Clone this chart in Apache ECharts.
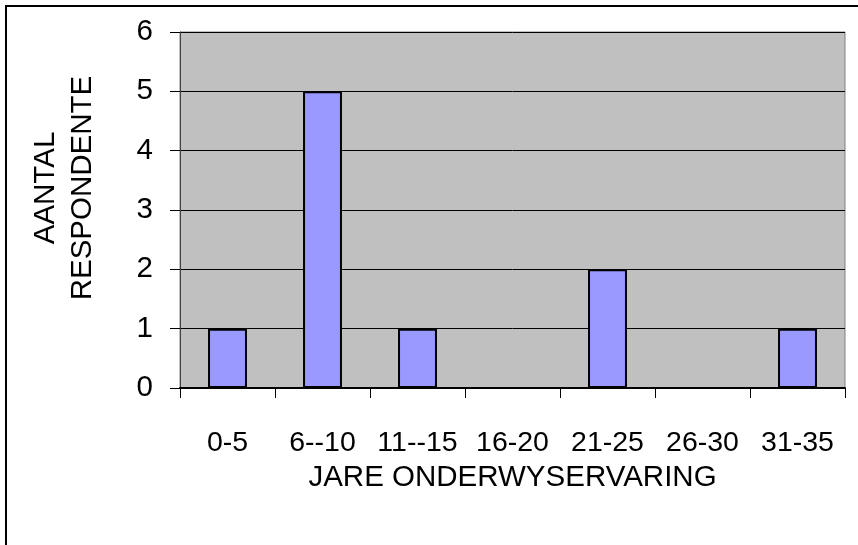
<!DOCTYPE html>
<html>
<head>
<meta charset="utf-8">
<script src="https://cdn.jsdelivr.net/npm/echarts@6/dist/echarts.min.js"></script>
<style>
html,body{margin:0;padding:0;background:#fff;}
#chart{width:858px;height:545px;}
</style>
</head>
<body>
<div id="chart"></div>
<script>
const categories = ['0-5', '6--10', '11--15', '16-20', '21-25', '26-30', '31-35'];
const respondents = [1, 5, 1, 0, 2, 0, 1];
const yTicks = [0, 1, 2, 3, 4, 5, 6];
const xTitle = 'JARE ONDERWYSERVARING';
const yTitle = 'AANTAL\nRESPONDENTE';

const font = "'Liberation Sans', Arial, sans-serif";
const chart = echarts.init(document.getElementById('chart'), null, {renderer: 'canvas'});
chart.setOption({
  animation: false,
  backgroundColor: '#ffffff',
  graphic: [{
    type: 'rect',
    shape: {x: 6, y: 6, width: 900, height: 600},
    style: {fill: 'none', stroke: '#000', lineWidth: 2},
    silent: true, z: -1
  }],
  grid: {
    left: 180, top: 32, right: 13, bottom: 157,
    show: true, backgroundColor: '#C0C0C0', borderColor: '#808080', borderWidth: 1
  },
  xAxis: {
    type: 'category',
    data: categories,
    boundaryGap: true,
    name: xTitle,
    nameLocation: 'middle',
    nameGap: 72,
    nameTextStyle: {fontFamily: font, fontSize: 29.5, color: '#000'},
    axisLine: {show: true, lineStyle: {color: '#000', width: 2}},
    axisTick: {show: true, alignWithLabel: false, length: 10, lineStyle: {color: '#000', width: 1}},
    axisLabel: {fontFamily: font, fontSize: 28.5, color: '#000', margin: 41, interval: 0}
  },
  yAxis: {
    type: 'value',
    min: yTicks[0], max: yTicks[yTicks.length - 1], interval: 1,
    name: yTitle,
    nameLocation: 'middle',
    nameGap: 79,
    nameTextStyle: {fontFamily: font, fontSize: 29.5, color: '#000', lineHeight: 37, align: 'center', padding: [0, 0, 0, 44]},
    axisLine: {show: true, lineStyle: {color: '#404040', width: 1}},
    axisTick: {show: true, length: 10, lineStyle: {color: '#000', width: 1}},
    axisLabel: {fontFamily: font, fontSize: 29.5, color: '#000', margin: 27},
    splitLine: {show: true, lineStyle: {color: '#000', width: 1}}
  },
  series: [{
    type: 'bar',
    data: respondents,
    barWidth: '41%',
    itemStyle: {color: '#9999FF', borderColor: '#000', borderWidth: 2}
  }]
});
</script>
</body>
</html>
